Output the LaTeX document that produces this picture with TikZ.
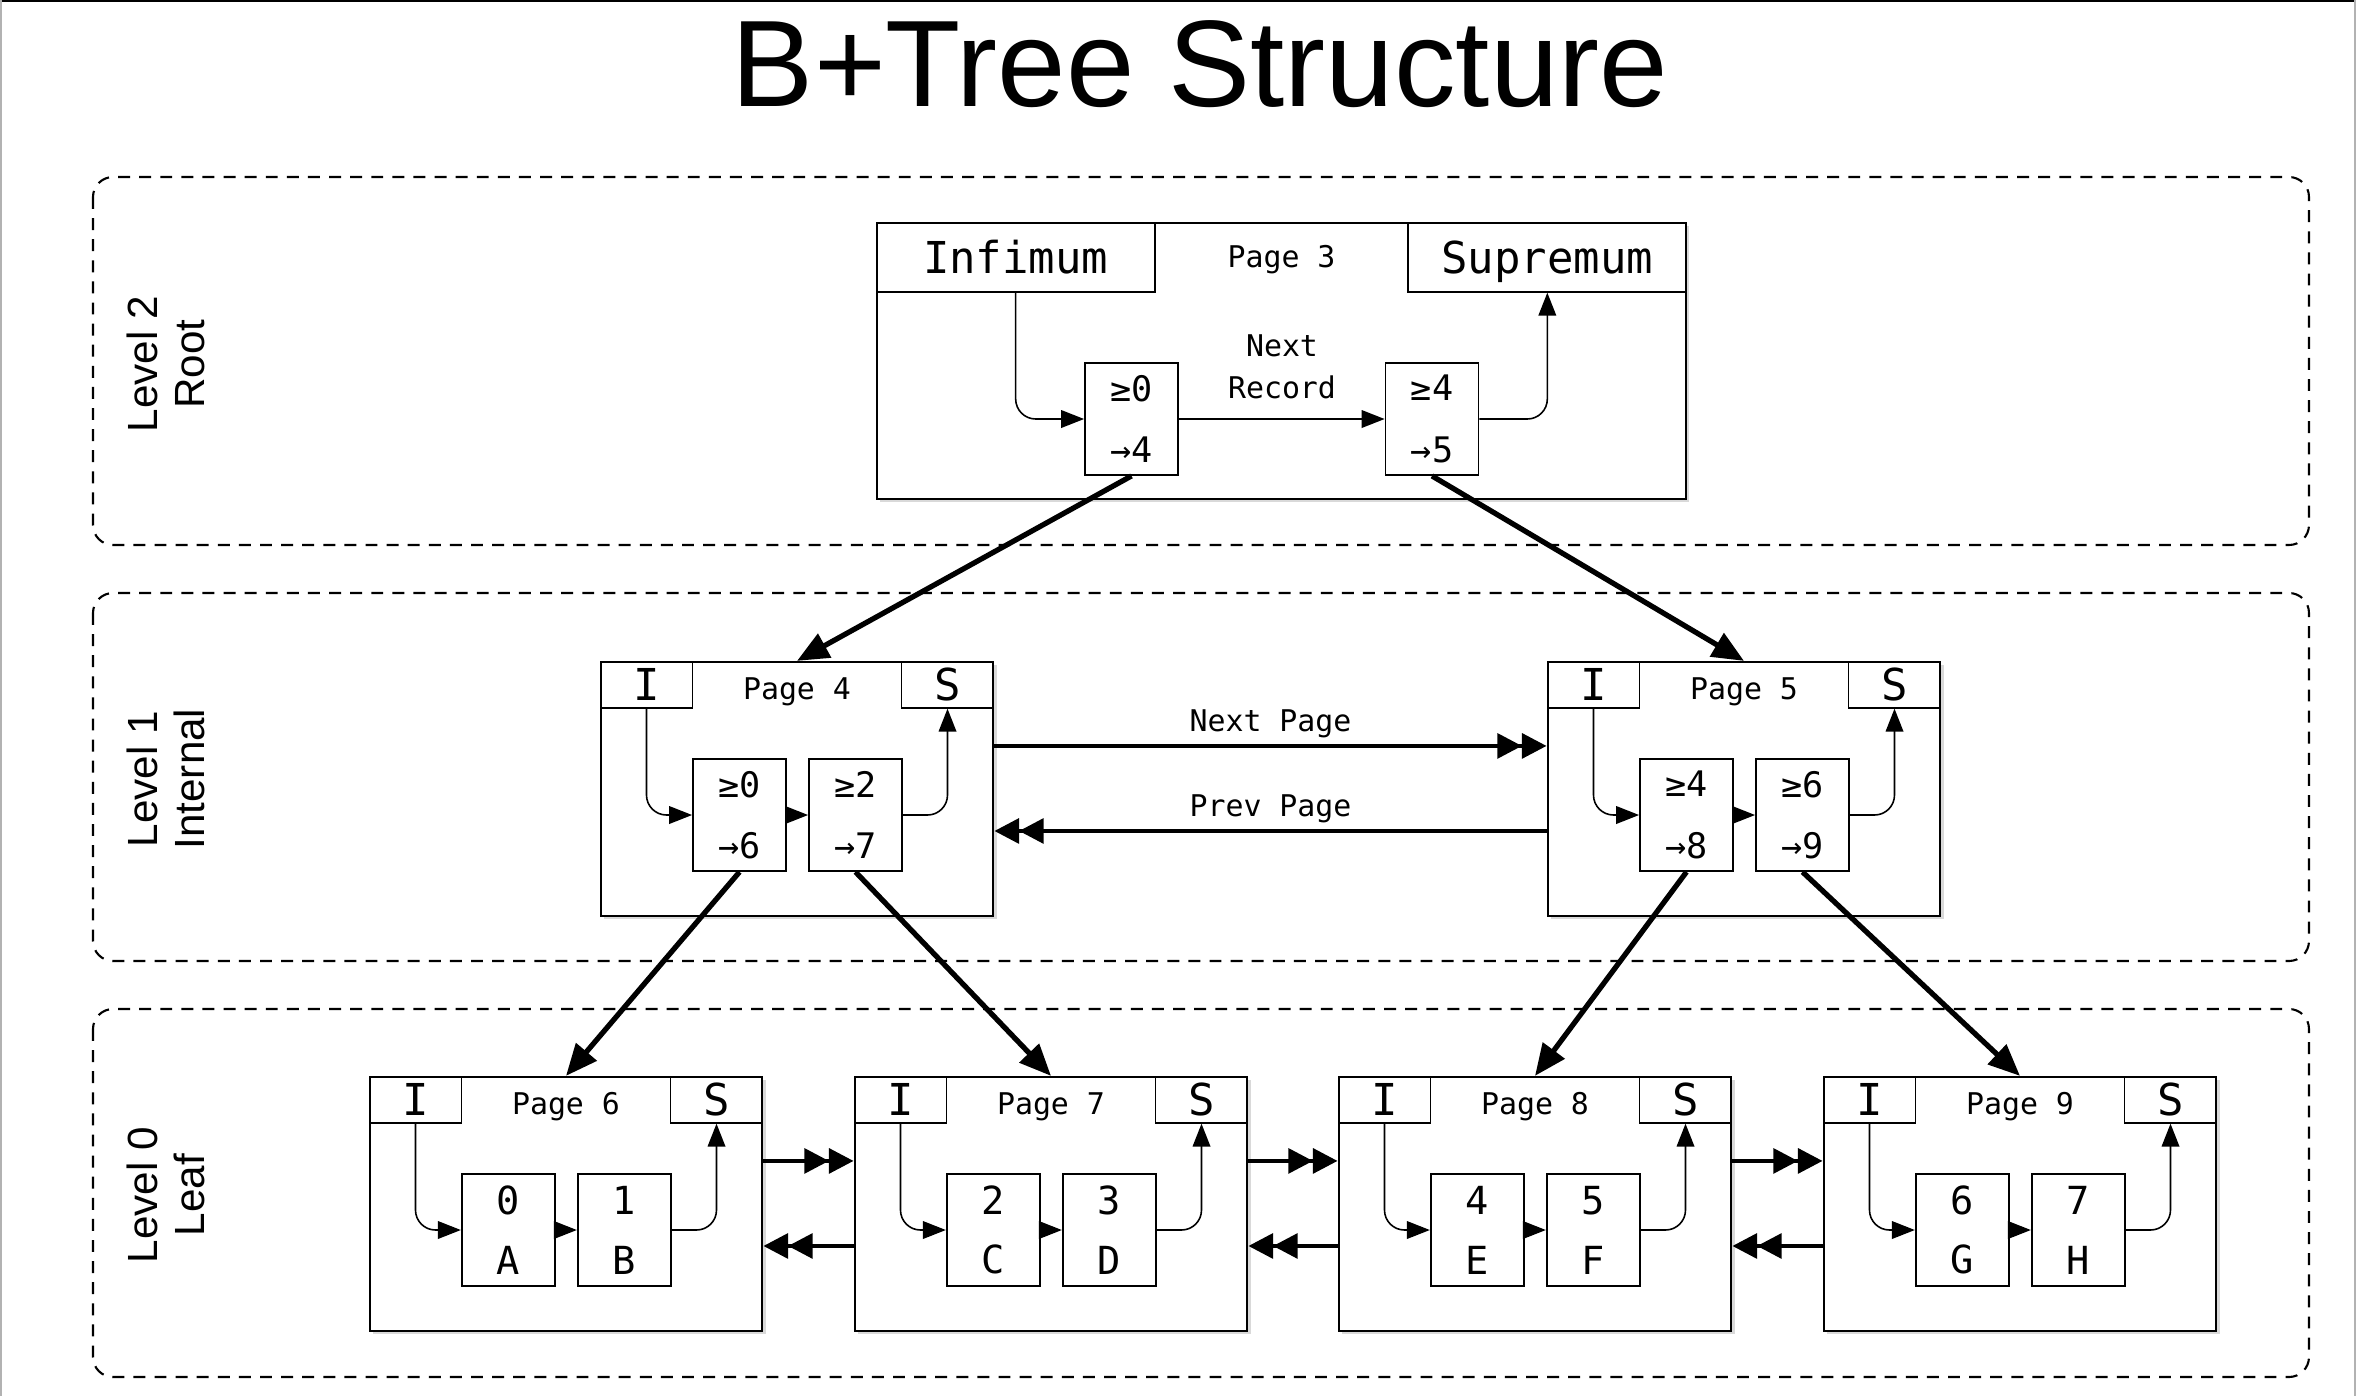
\documentclass[tikz,border=0pt]{standalone}
\usepackage{fontspec}
\setmainfont{Liberation Sans}
\newfontfamily\recfont{DejaVu Sans Mono}
\usetikzlibrary{arrows.meta,shadows}

\begin{document}
\begin{tikzpicture}[x=0.01cm, y=-0.01cm,
  page/.style={draw, line width=0.6pt, fill=white, inner sep=0pt, minimum width=3.925cm, minimum height=2.54cm,
    drop shadow={shadow xshift=0.9pt, shadow yshift=-0.9pt, opacity=0.3}},
  hdr/.style={draw, line width=0.5pt, inner sep=0pt, minimum width=0.92cm, minimum height=0.46cm, text height=9pt, text depth=0pt,
    font=\recfont\fontsize{12.5}{14}\selectfont},
  pname/.style={inner sep=0pt, font=\recfont\fontsize{8.5}{12}\selectfont},
  rec/.style={draw, line width=0.5pt, fill=white, inner sep=0pt, minimum width=0.93cm, minimum height=1.12cm, align=center, font=\recfont\fontsize{10}{17.4}\selectfont},
  leafrec/.style={rec, font=\recfont\fontsize{11}{17}\selectfont},
  ptr/.style={line width=0.45pt, rounded corners=0.2cm, -{Triangle[length=6.5pt,width=5pt]}},
  kid/.style={line width=1.5pt, -{Triangle[length=9pt,width=7.5pt]}},
  link/.style={line width=1.2pt, -{Triangle[length=7pt,width=7pt]Triangle[length=7pt,width=7pt]}},
  lvl/.style={line width=0.6pt, rounded corners=0.2cm, dash pattern=on 3.4pt off 2.6pt},
  lvlname/.style={rotate=90, align=center, font=\fontsize{12}{13.4}\selectfont}]
\useasboundingbox (0,0) rectangle (2356,1396);
\draw[line width=0.8pt] (0,1) -- (2356,1);
\draw[gray!60, line width=0.5pt] (1,0) -- (1,1396);
\draw[gray!60, line width=0.5pt] (2355,0) -- (2355,1396);

\node[font=\fontsize{35}{40}\selectfont, anchor=base] (title) at (1200,106) {B+Tree Structure};

\draw[lvl] (93,177) rectangle (2309,545);
\draw[lvl] (93,593) rectangle (2309,961);
\draw[lvl] (93,1009) rectangle (2309,1377);
\node[lvlname] (l2) at (166,364) {Level 2\\Root};
\node[lvlname] (l1) at (166,779) {Level 1\\Internal};
\node[lvlname] (l0) at (166,1195) {Level 0\\Leaf};

\node[page, minimum width=8.09cm, minimum height=2.76cm] (p3) at (1281.5,361) {};
\node[hdr, minimum width=2.78cm, minimum height=0.69cm, anchor=north west] (p3i) at (p3.north west) {Infimum};
\node[hdr, minimum width=2.78cm, minimum height=0.69cm, anchor=north east] (p3s) at (p3.north east) {Supremum};
\node[pname] (p3n) at (1281.5,260) {Page 3};
\node[pname, align=center] (nrec) at (1282,367) {Next\\Record};
\node[rec] (r30) at (1131.5,419) {≥0\\→4};
\node[rec] (r31) at (1432,419) {≥4\\→5};

\node[page] (p4) at (797,789) {};
\node[hdr, anchor=north west] (p4i) at (p4.north west) {I};
\node[hdr, anchor=north east] (p4s) at (p4.north east) {S};
\node[pname] (p4n) at (797,692) {Page 4};
\node[rec] (r40) at (739.5,815) {≥0\\→6};
\node[rec] (r41) at (855.5,815) {≥2\\→7};

\node[page] (p5) at (1744,789) {};
\node[hdr, anchor=north west] (p5i) at (p5.north west) {I};
\node[hdr, anchor=north east] (p5s) at (p5.north east) {S};
\node[pname] (p5n) at (1744,692) {Page 5};
\node[rec] (r50) at (1686.5,815) {≥4\\→8};
\node[rec] (r51) at (1802.5,815) {≥6\\→9};

\node[page] (p6) at (566,1204) {};
\node[hdr, anchor=north west] (p6i) at (p6.north west) {I};
\node[hdr, anchor=north east] (p6s) at (p6.north east) {S};
\node[pname] (p6n) at (566,1107) {Page 6};
\node[leafrec] (r60) at (508.25,1230) {0\\A};
\node[leafrec] (r61) at (624.25,1230) {1\\B};

\node[page] (p7) at (1051,1204) {};
\node[hdr, anchor=north west] (p7i) at (p7.north west) {I};
\node[hdr, anchor=north east] (p7s) at (p7.north east) {S};
\node[pname] (p7n) at (1051,1107) {Page 7};
\node[leafrec] (r70) at (993.25,1230) {2\\C};
\node[leafrec] (r71) at (1109.25,1230) {3\\D};

\node[page] (p8) at (1535,1204) {};
\node[hdr, anchor=north west] (p8i) at (p8.north west) {I};
\node[hdr, anchor=north east] (p8s) at (p8.north east) {S};
\node[pname] (p8n) at (1535,1107) {Page 8};
\node[leafrec] (r80) at (1477.25,1230) {4\\E};
\node[leafrec] (r81) at (1593.25,1230) {5\\F};

\node[page] (p9) at (2020,1204) {};
\node[hdr, anchor=north west] (p9i) at (p9.north west) {I};
\node[hdr, anchor=north east] (p9s) at (p9.north east) {S};
\node[pname] (p9n) at (2020,1107) {Page 9};
\node[leafrec] (r90) at (1962.25,1230) {6\\G};
\node[leafrec] (r91) at (2078.25,1230) {7\\H};

\draw[ptr] (p3i.south) |- (r30.west);
\draw[ptr] (r30.east) -- (r31.west);
\draw[ptr] (r31.east) -| (p3s.south);
\draw[ptr] (p4i.south) |- (r40.west);
\draw[ptr] (r40.east) -- (r41.west);
\draw[ptr] (r41.east) -| (p4s.south);
\draw[ptr] (p5i.south) |- (r50.west);
\draw[ptr] (r50.east) -- (r51.west);
\draw[ptr] (r51.east) -| (p5s.south);
\draw[ptr] (p6i.south) |- (r60.west);
\draw[ptr] (r60.east) -- (r61.west);
\draw[ptr] (r61.east) -| (p6s.south);
\draw[ptr] (p7i.south) |- (r70.west);
\draw[ptr] (r70.east) -- (r71.west);
\draw[ptr] (r71.east) -| (p7s.south);
\draw[ptr] (p8i.south) |- (r80.west);
\draw[ptr] (r80.east) -- (r81.west);
\draw[ptr] (r81.east) -| (p8s.south);
\draw[ptr] (p9i.south) |- (r90.west);
\draw[ptr] (r90.east) -- (r91.west);
\draw[ptr] (r91.east) -| (p9s.south);

\draw[kid] (r30.south) -- (p4.north);
\draw[kid] (r31.south) -- (p5.north);
\draw[kid] (r40.south) -- (p6.north);
\draw[kid] (r41.south) -- (p7.north);
\draw[kid] (r50.south) -- (p8.north);
\draw[kid] (r51.south) -- (p9.north);

\draw[link] ([yshift=-0.85cm]p4.north east) -- node[pname, above=1.7pt] {Next Page} ([yshift=-0.85cm]p5.north west);
\draw[link] ([yshift=-1.7cm]p5.north west) -- node[pname, above=1.7pt] {Prev Page} ([yshift=-1.7cm]p4.north east);
\draw[link] ([yshift=-0.85cm]p6.north east) -- ([yshift=-0.85cm]p7.north west);
\draw[link] ([yshift=-1.7cm]p7.north west) -- ([yshift=-1.7cm]p6.north east);
\draw[link] ([yshift=-0.85cm]p7.north east) -- ([yshift=-0.85cm]p8.north west);
\draw[link] ([yshift=-1.7cm]p8.north west) -- ([yshift=-1.7cm]p7.north east);
\draw[link] ([yshift=-0.85cm]p8.north east) -- ([yshift=-0.85cm]p9.north west);
\draw[link] ([yshift=-1.7cm]p9.north west) -- ([yshift=-1.7cm]p8.north east);
\end{tikzpicture}
\end{document}
